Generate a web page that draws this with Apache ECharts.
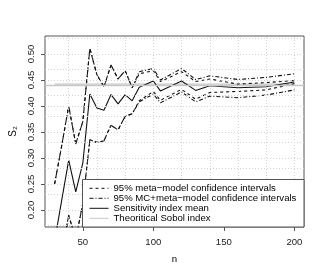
<!DOCTYPE html>
<html>
<head>
<meta charset="utf-8">
<script src="https://cdn.jsdelivr.net/npm/echarts@6/dist/echarts.min.js"></script>
<style>
html,body{margin:0;padding:0;background:#fff;}
#chart{width:327px;height:273px;}
</style>
</head>
<body>
<div id="chart"></div>
<script>
var nValues   = [30, 35, 40, 45, 50, 55, 60, 65, 70, 75, 80, 85, 90, 100, 105, 120, 130, 140, 160, 180, 200];
var meanS2    = [0.140, 0.218, 0.296, 0.235, 0.290, 0.423, 0.396, 0.392, 0.422, 0.404, 0.422, 0.410, 0.436, 0.448, 0.429, 0.448, 0.430, 0.439, 0.435, 0.437, 0.446];
var mcUpper   = [0.250, 0.323, 0.400, 0.327, 0.370, 0.511, 0.460, 0.437, 0.479, 0.452, 0.468, 0.435, 0.466, 0.472, 0.450, 0.472, 0.451, 0.458, 0.451, 0.455, 0.462];
var mcLower   = [0.030, 0.113, 0.190, 0.143, 0.213, 0.335, 0.330, 0.333, 0.363, 0.354, 0.380, 0.385, 0.408, 0.423, 0.406, 0.427, 0.408, 0.419, 0.416, 0.421, 0.431];
var metaUpper = [0.250, 0.323, 0.400, 0.327, 0.370, 0.511, 0.460, 0.437, 0.479, 0.452, 0.468, 0.435, 0.462, 0.468, 0.447, 0.466, 0.447, 0.452, 0.442, 0.445, 0.449];
var metaLower = [0.030, 0.113, 0.190, 0.143, 0.213, 0.335, 0.330, 0.333, 0.363, 0.354, 0.380, 0.385, 0.410, 0.428, 0.411, 0.432, 0.413, 0.426, 0.428, 0.431, 0.443];
var sobolTrue = 0.442;
var xTicks = [50, 100, 150, 200];
var yTicks = [0.20, 0.25, 0.30, 0.35, 0.40, 0.45, 0.50];
var xGrid = [40, 60, 80, 100, 120, 140, 160, 180, 200];
var yGrid = [0.175, 0.200, 0.225, 0.250, 0.275, 0.300, 0.325, 0.350, 0.375, 0.400, 0.425, 0.450, 0.475, 0.500, 0.525];

var nameMeta = '95% meta\u2212model confidence intervals';
var nameMC = '95% MC+meta\u2212model confidence intervals';
var nameMean = 'Sensitivity index mean';
var nameTrue = 'Theoritical Sobol index';

function pairs(ys) { return nValues.map(function (n, i) { return [n, ys[i]]; }); }

var FONT = 'Liberation Sans, Arial, Helvetica, sans-serif';
var dashMeta = [3, 3];
var dashMC = [4, 2, 1, 2];

function lineSeries(name, ys, dash) {
  return {
    name: name, type: 'line', data: pairs(ys), symbol: 'none', z: 3,
    lineStyle: { color: '#111', width: 1.1, type: dash },
    itemStyle: { color: '#111', opacity: 0 },
    emphasis: { disabled: true }, animation: false
  };
}

var gridMarks = xGrid.map(function (v) { return { xAxis: v }; })
  .concat(yGrid.map(function (v) { return { yAxis: v }; }));

var chart = echarts.init(document.getElementById('chart'), null, { renderer: 'canvas' });
chart.setOption({
  animation: false,
  backgroundColor: '#fff',
  grid: { left: 43, top: 36, width: 261, height: 191, show: true, borderColor: '#555', borderWidth: 1, backgroundColor: 'transparent' },
  xAxis: {
    type: 'value', min: 23.2, max: 206.8,
    name: 'n', nameLocation: 'middle', nameGap: 27,
    nameTextStyle: { fontFamily: FONT, fontSize: 9.6, color: '#000' },
    axisLine: { show: false },
    axisTick: { show: true, inside: false, length: 4, customValues: xTicks, lineStyle: { color: '#555' } },
    axisLabel: { customValues: xTicks, margin: 10, fontFamily: FONT, fontSize: 9.6, color: '#222' },
    splitLine: { show: false }
  },
  yAxis: {
    type: 'value', min: 0.16731, max: 0.53462,
    name: 'S\u2082', nameLocation: 'middle', nameGap: 27, nameRotate: 90,
    nameTextStyle: { fontFamily: FONT, fontSize: 10, color: '#000' },
    axisLine: { show: false },
    axisTick: { show: true, inside: false, length: 4, customValues: yTicks, lineStyle: { color: '#555' } },
    axisLabel: { customValues: yTicks, rotate: 90, margin: 9, fontFamily: FONT, fontSize: 9.6, color: '#222',
      formatter: function (v) { return v.toFixed(2); } },
    splitLine: { show: false }
  },
  legend: {
    orient: 'vertical', left: 89, top: 183.3, padding: 0, itemGap: 0,
    itemWidth: 19, itemHeight: 10, z: 101, selectedMode: false,
    itemStyle: { opacity: 0, borderWidth: 0 },
    lineStyle: { width: 1 },
    data: [nameMeta, nameMC, nameMean, nameTrue],
    textStyle: { fontFamily: FONT, fontSize: 9.6, color: '#000', lineHeight: 10 }
  },
  graphic: [{
    type: 'rect', z: 100,
    shape: { x: 82.5, y: 179.5, width: 221.5, height: 47.5 },
    style: { fill: '#fff', stroke: '#555', lineWidth: 1 }
  }],
  series: [
    {
      name: 'grid', type: 'line', data: [], symbol: 'none', z: 1, silent: true,
      markLine: {
        silent: true, symbol: ['none', 'none'], label: { show: false }, animation: false,
        lineStyle: { color: '#d3d3d3', width: 1, type: [1, 2] },
        emphasis: { disabled: true },
        data: gridMarks
      }
    },
    {
      name: nameTrue, type: 'line', data: pairs(nValues.map(function () { return sobolTrue; })), symbol: 'none', z: 2,
      lineStyle: { color: '#c8c8c8', width: 1.3, type: 'solid' },
      itemStyle: { color: '#c8c8c8', opacity: 0 },
      markLine: {
        silent: true, symbol: ['none', 'none'], label: { show: false }, animation: false,
        lineStyle: { color: '#c8c8c8', width: 1.3, type: 'solid' },
        emphasis: { disabled: true },
        data: [{ yAxis: sobolTrue }]
      },
      emphasis: { disabled: true }
    },
    lineSeries(nameMC, mcUpper, dashMC),
    lineSeries(nameMC, mcLower, dashMC),
    lineSeries(nameMeta, metaUpper, dashMeta),
    lineSeries(nameMeta, metaLower, dashMeta),
    lineSeries(nameMean, meanS2, 'solid')
  ]
});
</script>
</body>
</html>
